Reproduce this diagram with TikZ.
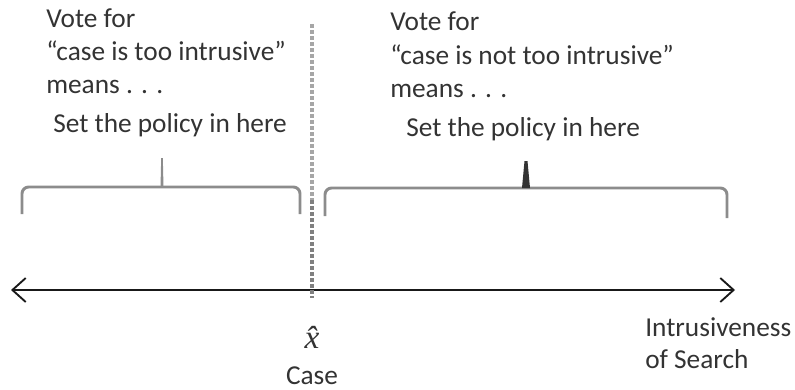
\documentclass[tikz,border=0pt]{standalone}
\usepackage{fontspec}
\setmainfont{Carlito}
\newfontfamily\mathlikefont{Liberation Serif}
\usetikzlibrary{arrows.meta}
\begin{document}
\begin{tikzpicture}[x=0.75pt,y=-0.75pt,
  lbl/.style={anchor=base west,inner sep=0pt,font=\fontsize{20.5pt}{24pt}\selectfont,text=black!80},
  bracestyle/.style={draw=black!45,line width=2.2pt,rounded corners=5pt},
  axisstyle/.style={draw=black!90,line width=1.4pt,{Straight Barb[length=10pt,width=18pt,line width=1.4pt]}-{Straight Barb[length=10pt,width=18pt,line width=1.4pt]}},
  casestyle/.style={line width=3pt,dash pattern=on 3pt off 1.5pt}]
\useasboundingbox (0,0) rectangle (795,389);
% left texts
\node[lbl] (l1) at (46,27) {Vote for};
\node[lbl] (l2) at (46,60) {“case is too intrusive”};
\node[lbl] (l3) at (46,93) {means . . .};
\node[lbl] (l4) at (53,132) {Set the policy in here};
% right texts
\node[lbl] (r1) at (390,31) {Vote for};
\node[lbl] (r2) at (390,64) {“case is not too intrusive”};
\node[lbl] (r3) at (390,97) {means . . .};
\node[lbl] (r4) at (406,136) {Set the policy in here};
% braces
\draw[bracestyle] (22,214) -- (22,187) -- (162,187) -- (300,187) -- (300,214);
\fill[black!45] (160.5,187) -- (161.2,158) -- (162.8,158) -- (163.5,187) -- cycle;
\draw[bracestyle] (325,216) -- (325,188) -- (727,188) -- (727,218);
\fill[black!80] (522,188) -- (524.5,161) -- (527.5,161) -- (530,188) -- cycle;
% axis
\coordinate (al) at (11,290);
\coordinate (ar) at (735,290);
\draw[axisstyle] (al) -- (ar);
% case line
\coordinate (ct) at (312,24);
\coordinate (cm) at (312,200);
\coordinate (cb) at (312,298);
\draw[casestyle,draw=black!35] (ct) -- (cm);
\draw[casestyle,draw=black!50] (cm) -- (cb);
% bottom labels
\node[anchor=base,inner sep=0pt,font=\fontsize{25pt}{28pt}\mathlikefont\itshape\selectfont,text=black!80] (xh) at (312,348) {\^{x}};
\node[lbl,anchor=base] (cs) at (312,384) {Case};
\node[lbl] (i1) at (645,336) {Intrusiveness};
\node[lbl] (i2) at (645,368) {of Search};
\end{tikzpicture}
\end{document}
